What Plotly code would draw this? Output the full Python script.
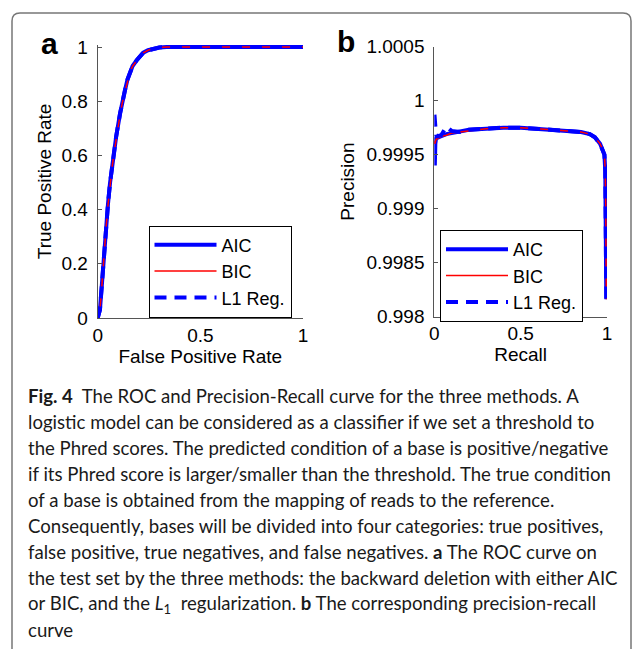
import plotly.graph_objects as go

# ---------------- data ----------------
roc_fpr = [0, 0.004, 0.011, 0.02, 0.028, 0.04, 0.05, 0.06, 0.07, 0.076, 0.09, 0.109, 0.12,
           0.133, 0.145, 0.157, 0.17, 0.19, 0.205, 0.222, 0.245, 0.271, 0.3, 0.336, 0.4,
           0.6, 0.8, 1.0]
roc_tpr_aic = [0, 0.01, 0.031, 0.12, 0.215, 0.33, 0.42, 0.498, 0.56, 0.595, 0.67, 0.755, 0.80,
               0.841, 0.88, 0.909, 0.93, 0.951, 0.966, 0.979, 0.988, 0.994, 0.998, 1.0, 1.0,
               1.0, 1.0, 1.0]
roc_tpr_bic = [0, 0.01, 0.03, 0.115, 0.21, 0.325, 0.415, 0.495, 0.555, 0.59, 0.665, 0.75, 0.795,
               0.838, 0.878, 0.907, 0.929, 0.95, 0.965, 0.978, 0.988, 0.994, 0.998, 1.0, 1.0,
               1.0, 1.0, 1.0]
roc_tpr_l1 = roc_tpr_aic

pr_recall = [0.001, 0.003, 0.006, 0.01, 0.02, 0.04, 0.07, 0.1, 0.15, 0.2, 0.3, 0.4, 0.5, 0.6,
             0.7, 0.8, 0.85, 0.9, 0.93, 0.96, 0.975, 0.985, 0.99, 0.993, 0.995, 0.996]
pr_prec_aic = [0.99962, 0.99940, 0.99960, 0.99965, 0.99966, 0.99967, 0.99969, 0.99970, 0.99971,
               0.99973, 0.99974, 0.99975, 0.99975, 0.99974, 0.99973, 0.99972, 0.99971, 0.99969,
               0.99966, 0.99960, 0.99955, 0.99950, 0.99935, 0.99900, 0.99860, 0.99816]
pr_prec_bic = [0.99963, 0.99960, 0.99962, 0.99964, 0.99965, 0.99967, 0.99968, 0.99970, 0.99971,
               0.99972, 0.99974, 0.99975, 0.99975, 0.99974, 0.99973, 0.99972, 0.99971, 0.99969,
               0.99966, 0.99960, 0.99955, 0.99950, 0.99935, 0.99900, 0.99860, 0.99816]
pr_prec_l1 = [0.99987, 0.99982, 0.99972, 0.99968, 0.99967, 0.99968, 0.99976, 0.99972, 0.99971,
              0.99973, 0.99974, 0.99975, 0.99975, 0.99974, 0.99973, 0.99972, 0.99971, 0.99969,
              0.99966, 0.99960, 0.99955, 0.99950, 0.99935, 0.99900, 0.99860, 0.99816]

method_names = ["AIC", "BIC", "L1 Reg."]

roc_xticks = [0, 0.5, 1]
roc_xticktext = ["0", "0.5", "1"]
roc_yticks = [0, 0.2, 0.4, 0.6, 0.8, 1]
roc_yticktext = ["0", "0.2", "0.4", "0.6", "0.8", "1"]
pr_xticks = [0, 0.5, 1]
pr_xticktext = ["0", "0.5", "1"]
pr_yticks = [0.998, 0.9985, 0.999, 0.9995, 1.0, 1.0005]
pr_yticktext = ["0.998", "0.9985", "0.999", "0.9995", "1", "1.0005"]

caption_lines = [
    "<b>Fig. 4</b>  The ROC and Precision-Recall curve for the three methods. A",
    "logistic model can be considered as a classifier if we set a threshold to",
    "the Phred scores. The predicted condition of a base is positive/negative",
    "if its Phred score is larger/smaller than the threshold. The true condition",
    "of a base is obtained from the mapping of reads to the reference.",
    "Consequently, bases will be divided into four categories: true positives,",
    "false positive, true negatives, and false negatives. <b>a</b> The ROC curve on",
    "the test set by the three methods: the backward deletion with either AIC",
    "or BIC, and the <i>L</i><sub>1</sub>  regularization. <b>b</b> The corresponding precision-recall",
    "curve",
]

# ---------------- figure ----------------
W, H = 636, 649
BLUE = "#0000ff"
RED = "#ff0000"
AXC = "#555555"
PF = "Liberation Sans, Arial, sans-serif"
FS = 19
LFS = 18

def px_x(p):
    return p / W

def px_y(p):
    return 1 - p / H

styles = [
    dict(color=BLUE, width=4, dash="solid"),
    dict(color=RED, width=1.5, dash="solid"),
    dict(color=BLUE, width=4, dash="12px,8px"),
]

fig = go.Figure()
for name, ys, st in zip(method_names, [roc_tpr_aic, roc_tpr_bic, roc_tpr_l1], styles):
    fig.add_trace(go.Scatter(x=roc_fpr, y=ys, mode="lines", name=name, line=st,
                             xaxis="x", yaxis="y", legend="legend"))
for name, ys, st in zip(method_names, [pr_prec_aic, pr_prec_bic, pr_prec_l1], styles):
    fig.add_trace(go.Scatter(x=pr_recall, y=ys, mode="lines", name=name, line=st,
                             xaxis="x2", yaxis="y2", legend="legend2"))

axis_common = dict(showline=True, linecolor=AXC, linewidth=1, ticks="inside", ticklen=4,
                   tickcolor=AXC, showgrid=False, zeroline=False, mirror=False,
                   automargin=False,
                   tickfont=dict(family=PF, size=FS, color="black"),
                   title_font=dict(family=PF, size=FS, color="black"))

# y range slightly above 1 so the line at TPR=1 is not clipped
roc_ytop = 1.008
a_bottom, a_y1 = 318, 47
a_top = a_bottom - (a_bottom - a_y1) * roc_ytop

fig.update_layout(
    width=W, height=H, margin=dict(l=0, r=0, t=0, b=0, autoexpand=False),
    paper_bgcolor="white", plot_bgcolor="white",
    xaxis=dict(domain=[px_x(97.7), px_x(303)], range=[0, 1], anchor="y",
               tickvals=roc_xticks, ticktext=roc_xticktext, ticklabelstandoff=0,
               title=dict(text="False Positive Rate", standoff=2), **axis_common),
    yaxis=dict(domain=[px_y(a_bottom), px_y(a_top)], range=[0, roc_ytop], anchor="x",
               tickvals=roc_yticks, ticktext=roc_yticktext, ticklabelstandoff=5,
               title=dict(text="True Positive Rate", standoff=4), **axis_common),
    xaxis2=dict(domain=[px_x(434.3), px_x(607)], range=[0, 1], anchor="y2",
                tickvals=pr_xticks, ticktext=pr_xticktext, ticklabelstandoff=0,
                title=dict(text="Recall", standoff=2), **axis_common),
    yaxis2=dict(domain=[px_y(316.5), px_y(46.7)], range=[0.998, 1.0005], anchor="x2",
                tickvals=pr_yticks, ticktext=pr_yticktext, ticklabelstandoff=5,
                title=dict(text="Precision", standoff=6), **axis_common),
    legend=dict(x=px_x(148.5), y=px_y(225.5), xanchor="left", yanchor="top",
                bordercolor="black", borderwidth=1, bgcolor="white",
                font=dict(family=PF, size=LFS, color="black"), itemwidth=62,
                tracegroupgap=0),
    legend2=dict(x=px_x(440), y=px_y(230), xanchor="left", yanchor="top",
                 bordercolor="black", borderwidth=1, bgcolor="white",
                 font=dict(family=PF, size=LFS, color="black"), itemwidth=62,
                 tracegroupgap=0),
)

annotations = [
    dict(text="<b>a</b>", x=px_x(49), y=px_y(43), xref="paper", yref="paper",
         xanchor="center", yanchor="middle", showarrow=False,
         font=dict(family=PF, size=30, color="black")),
    dict(text="<b>b</b>", x=px_x(346), y=px_y(42), xref="paper", yref="paper",
         xanchor="center", yanchor="middle", showarrow=False,
         font=dict(family=PF, size=30, color="black")),
]
cap_y0, cap_dy = 396, 26
for i, line in enumerate(caption_lines):
    annotations.append(dict(text=line, x=px_x(26), y=px_y(cap_y0 + i * cap_dy),
                            xref="paper", yref="paper", xanchor="left", yanchor="middle",
                            showarrow=False,
                            font=dict(family="Lato, sans-serif", size=18.6, color="#1a1a1a")))
fig.update_layout(annotations=annotations)

# rounded border box around the whole figure (open at the bottom)
L, T, R, B, rad = 12, 13, 631, 660, 8
path = (f"M {px_x(L)},{px_y(B)} L {px_x(L)},{px_y(T + rad)} "
        f"Q {px_x(L)},{px_y(T)} {px_x(L + rad)},{px_y(T)} "
        f"L {px_x(R - rad)},{px_y(T)} Q {px_x(R)},{px_y(T)} {px_x(R)},{px_y(T + rad)} "
        f"L {px_x(R)},{px_y(B)}")
fig.add_shape(type="path", path=path, xref="paper", yref="paper",
              line=dict(color="#777777", width=1.5), layer="above")

fig.write_html("out.html", config={"displayModeBar": False},
               post_script="document.body.style.margin='0';document.body.style.overflow='hidden';")
